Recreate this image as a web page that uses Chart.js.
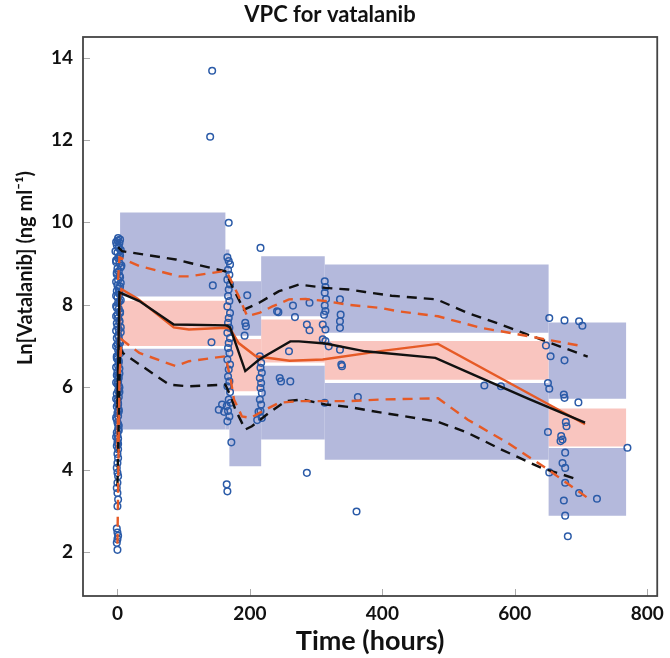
<!DOCTYPE html>
<html>
<head>
<meta charset="utf-8">
<title>VPC for vatalanib</title>
<script src="https://cdn.jsdelivr.net/npm/chart.js@4.4.1/dist/chart.umd.min.js"></script>
<style>
  html, body { margin: 0; padding: 0; background: #fff; }
  #wrap { width: 670px; height: 658px; }
</style>
</head>
<body>
<div id="wrap"><canvas id="vpc" width="670" height="658"></canvas></div>
<script>
// axis ticks
const xTicks = [0, 200, 400, 600, 800];
const yTicks = [2, 4, 6, 8, 10, 12, 14];

// time bins and the prediction-interval boxes (ln ng/ml)
const binStart  = [4,     163,  169,  217,  313,  651];
const binEnd    = [163,   169,  217,  313,  651,  768];
const hiTop     = [10.24, 9.34, 8.57, 9.18, 8.98, 7.57];
const hiBottom  = [8.20,  8.20, 7.25, 7.72, 7.32, 5.72];
const medTop    = [8.10,  8.10, 7.17, 7.64, 7.12, 5.48];
const medBottom = [7.00,  7.00, 5.90, 6.60, 6.18, 4.56];
const loTop     = [6.93,  6.93, 5.80, 6.52, 6.10, 4.52];
const loBottom  = [4.97,  4.97, 4.08, 4.73, 4.24, 2.88];

// observed percentiles (black)
const obsMedT = [0, 3, 33, 85, 165, 170, 193, 214, 261, 274, 314, 374, 480, 545, 620, 706];
const obsMedY = [5.5, 8.30, 8.09, 7.52, 7.50, 7.45, 6.39, 6.67, 7.11, 7.11, 7.06, 6.87, 6.71, 6.25, 5.72, 5.14];
const obs95T  = [1, 7, 88, 108, 163, 173, 191, 214, 244, 274, 314, 349, 374, 414, 482, 529, 579, 639, 710];
const obs95Y  = [9.40, 9.30, 9.10, 9.02, 8.81, 8.45, 7.88, 8.05, 8.33, 8.49, 8.41, 8.37, 8.31, 8.22, 8.13, 7.80, 7.52, 7.16, 6.74];
const obs05T  = [0, 4, 8, 78, 108, 163, 171, 178, 193, 203, 229, 254, 279, 314, 349, 384, 419, 484, 529, 579, 640, 695];
const obs05Y  = [3.6, 6.95, 6.83, 6.06, 6.02, 6.06, 5.78, 5.46, 4.97, 5.05, 5.38, 5.66, 5.70, 5.58, 5.52, 5.42, 5.33, 5.16, 4.89, 4.49, 4.04, 3.76];

// simulated percentiles (orange)
const predMedT = [0, 3, 6, 30, 85, 108, 163, 170, 183, 209, 260, 310, 400, 484, 706];
const predMedY = [4.5, 8.10, 8.38, 8.15, 7.45, 7.40, 7.44, 7.42, 7.07, 6.75, 6.64, 6.67, 6.88, 7.05, 5.10];
const pred95T  = [1, 3, 33, 93, 108, 158, 166, 183, 196, 214, 234, 259, 284, 314, 349, 399, 424, 484, 549, 620, 700];
const pred95Y  = [8.6, 9.15, 8.94, 8.69, 8.69, 8.81, 8.77, 8.21, 7.72, 7.80, 7.96, 8.13, 8.14, 8.09, 8.00, 7.92, 7.84, 7.72, 7.44, 7.24, 7.00];
const pred05T  = [0, 3, 6, 33, 88, 108, 163, 171, 176, 188, 201, 224, 244, 274, 319, 349, 399, 484, 529, 589, 650, 710];
const pred05Y  = [2.2, 6.2, 7.16, 6.83, 6.51, 6.63, 6.75, 6.18, 5.70, 5.29, 5.25, 5.46, 5.62, 5.66, 5.66, 5.66, 5.70, 5.73, 5.21, 4.65, 4.00, 3.31];

// observed concentrations
const obsTime = [
  1, 0, 3, -1, 2, 5, 0, 4, 1, -2, 3, 6, 0, 2, -1, 4, 1, 5, 0, 2, -1, 3, 0, 5, 1, -2, 2, 4, 0, 1,
  3, -1, 0, 2, 5, 1, -1, 3, 0, 2, 1, 4, -1, 0, 2, 1, 3, 0, -1, 2, 1, 0, 3, 1, -1, 2, 0, 1, -1, 2,
  0, 1, -1, 0, 2, 1, -1, 0, 1, 0, -1, 1, 0, 1, 0, -1, 0, 1, 0, -1, 0, 1, 0, -1, 0, 1, 0, -1, 0,
  4, -2, 2, -3, 3, -2, 5, -1, 3, -2, 4, 2, -2, 3, -1, 4, -2, 3, 5, -2,
  2, 4, -2, 3, -1, 2, -2, 3, 1, -2, 2, 3, -2, 1, 2, -2, 1, 2, -2, 1,
  166, 168, 170, 167, 169, 166, 170, 168, 167, 169, 166, 170, 168, 167, 169, 166, 170, 168, 167, 169,
  166, 170, 168, 167, 169, 166, 170, 168, 165, 171, 167, 169, 166, 172, 153, 158, 161, 165, 166,
  143, 140, 168, 216, 144, 142, 196, 193, 194, 192,
  215, 217, 216, 218, 215, 217, 216, 218, 215, 217, 216, 218, 213, 211,
  241, 243, 265, 268, 245, 247, 261, 259, 286, 290, 286,
  313, 314, 313, 315, 313, 314, 312, 313, 290, 310, 314, 310, 314, 319,
  336, 337, 336, 336, 336, 338, 339, 363, 361, 554, 579,
  652, 675, 697, 702, 647, 654, 675, 650, 652, 674, 675, 696, 677, 678, 650, 670, 672, 669,
  770, 676, 672, 676, 652, 676, 697, 724, 674, 676, 680
];
const obsConc = [
  9.62, 9.56, 9.50, 9.45, 9.38, 9.33, 9.27, 9.20, 9.13, 9.08, 9.01, 8.95, 8.88, 8.81, 8.74, 8.67, 8.60, 8.53, 8.47, 8.40, 8.33, 8.26, 8.18, 8.11, 8.05, 7.97, 7.90, 7.83, 7.76, 7.68,
  7.61, 7.55, 7.47, 7.40, 7.33, 7.26, 7.19, 7.12, 7.04, 6.97, 6.90, 6.82, 6.75, 6.68, 6.60, 6.52, 6.45, 6.37, 6.29, 6.22, 6.14, 6.07, 5.99, 5.91, 5.84, 5.76, 5.68, 5.61, 5.53, 5.45,
  5.37, 5.30, 5.22, 5.14, 5.06, 4.98, 4.90, 4.83, 4.75, 4.66, 4.57, 4.49, 4.38, 4.28, 4.16, 4.04, 3.92, 3.84, 3.68, 3.55, 3.43, 3.27, 3.11, 2.57, 2.47, 2.39, 2.31, 2.22, 2.05,
  9.58, 9.52, 9.41, 9.30, 9.16, 9.04, 8.91, 8.78, 8.70, 8.56, 8.44, 8.30, 8.22, 8.08, 7.93, 7.80, 7.72, 7.58, 7.45, 7.37,
  7.22, 7.08, 6.99, 6.86, 6.71, 6.64, 6.48, 6.33, 6.26, 6.11, 6.03, 5.88, 5.72, 5.57, 5.41, 5.26, 5.10, 4.95, 4.79, 4.62,
  9.15, 9.06, 8.98, 8.85, 8.73, 8.61, 8.49, 8.37, 8.21, 8.09, 7.96, 7.80, 7.68, 7.56, 7.44, 7.32, 7.19, 7.07, 6.95, 6.83,
  6.67, 6.55, 6.43, 6.26, 6.14, 6.02, 5.88, 5.70, 5.54, 5.62, 5.42, 5.29, 5.17, 4.66, 5.45, 5.58, 5.40, 3.64, 3.47,
  13.68, 12.08, 9.99, 9.38, 8.47, 7.09, 8.23, 7.56, 7.48, 7.25,
  6.75, 6.59, 6.47, 6.35, 6.22, 6.10, 5.98, 5.86, 5.70, 5.58, 5.42, 5.25, 5.40, 5.20,
  7.84, 7.82, 7.98, 7.70, 6.22, 6.14, 6.14, 6.87, 7.52, 7.38, 3.92,
  8.57, 8.43, 8.29, 8.14, 7.98, 7.85, 7.76, 5.62, 8.05, 7.52, 7.40, 7.16, 7.12, 6.99,
  8.13, 7.76, 7.60, 7.44, 6.91, 6.55, 6.51, 5.76, 2.98, 6.04, 6.02,
  7.68, 7.62, 7.60, 7.49, 7.01, 6.75, 6.65, 6.10, 5.96, 5.82, 5.74, 5.63, 5.15, 5.05, 4.91, 4.81, 4.73, 4.69,
  4.53, 4.41, 4.16, 4.04, 3.93, 3.68, 3.43, 3.29, 3.25, 2.88, 2.38
];

const BLUE_BAND = '#b4b9dc';
const PINK_BAND = '#f9c5bf';
const ORANGE = '#e65a26';
const DOT = '#2b5ba8';
const FONT = 'Lato, "Open Sans", sans-serif';
const Y_TITLE = 'Ln[Vatalanib] (ng ml\u207B\u00B9)';

function xy(ts, ys) {
  return ts.map((t, i) => ({ x: t, y: ys[i] }));
}

function box(x0, x1, lo, hi, color) {
  return {
    type: 'line',
    data: [{ x: x0, y: lo }, { x: x0, y: hi }, { x: x1, y: hi }, { x: x1, y: lo }, { x: x0, y: lo }],
    fill: 'shape',
    backgroundColor: color,
    borderColor: 'rgba(0,0,0,0)',
    borderWidth: 0,
    pointRadius: 0,
    tension: 0,
    order: 5
  };
}

function curve(ts, ys, color, dashed) {
  return {
    type: 'line',
    data: xy(ts, ys),
    borderColor: color,
    borderWidth: 2.4,
    borderDash: dashed ? [10, 7] : [],
    pointRadius: 0,
    fill: false,
    tension: 0,
    order: 1
  };
}

const datasets = [];
binStart.forEach((b, i) => {
  datasets.push(box(b, binEnd[i], hiBottom[i], hiTop[i], BLUE_BAND));
  datasets.push(box(b, binEnd[i], loBottom[i], loTop[i], BLUE_BAND));
  datasets.push(box(b, binEnd[i], medBottom[i], medTop[i], PINK_BAND));
});
datasets.push({
  type: 'scatter',
  data: xy(obsTime, obsConc),
  pointStyle: 'circle',
  pointRadius: 3.3,
  pointBorderWidth: 1.5,
  borderColor: DOT,
  backgroundColor: 'rgba(0,0,0,0)',
  order: 2
});
datasets.push(curve(pred95T, pred95Y, ORANGE, true));
datasets.push(curve(pred05T, pred05Y, ORANGE, true));
datasets.push(curve(obs95T, obs95Y, '#111', true));
datasets.push(curve(obs05T, obs05Y, '#111', true));
datasets.push(curve(obsMedT, obsMedY, '#111', false));
datasets.push(curve(predMedT, predMedY, ORANGE, false));

// box round the plot, short inward ticks and the y title (sits above centre in the original)
const frame = {
  id: 'frame',
  afterDatasetsDraw(chart) {
    const { ctx, chartArea: a, scales: { x, y } } = chart;
    ctx.save();
    ctx.strokeStyle = '#aaa';
    ctx.lineWidth = 1;
    ctx.beginPath();
    xTicks.forEach(v => {
      const px = Math.round(x.getPixelForValue(v)) + 0.5;
      ctx.moveTo(px, a.bottom);
      ctx.lineTo(px, a.bottom - 7);
    });
    yTicks.forEach(v => {
      const py = Math.round(y.getPixelForValue(v)) + 0.5;
      ctx.moveTo(a.left, py);
      ctx.lineTo(a.left + 7, py);
    });
    ctx.stroke();
    ctx.strokeStyle = '#444';
    ctx.lineWidth = 1.8;
    ctx.strokeRect(a.left, a.top, a.right - a.left, a.bottom - a.top);

    ctx.translate(26, 268);
    ctx.rotate(-Math.PI / 2);
    ctx.fillStyle = '#111';
    ctx.font = 'bold 20px ' + FONT;
    ctx.textAlign = 'center';
    ctx.textBaseline = 'middle';
    ctx.fillText(Y_TITLE, 0, 0);
    ctx.restore();
  }
};

new Chart(document.getElementById('vpc'), {
  type: 'scatter',
  data: { datasets },
  options: {
    responsive: false,
    animation: false,
    devicePixelRatio: 1,
    layout: { padding: { left: 0, right: 10, top: 0, bottom: 0 } },
    plugins: {
      legend: { display: false },
      tooltip: { enabled: false },
      title: {
        display: true,
        text: 'VPC for vatalanib',
        color: '#111',
        font: { family: FONT, size: 22, weight: 'bold' },
        padding: { top: 2, bottom: 8.6 }
      }
    },
    scales: {
      x: {
        type: 'linear',
        min: -52,
        max: 815,
        grid: { display: false, drawTicks: false },
        border: { display: false },
        afterBuildTicks: s => { s.ticks = xTicks.map(v => ({ value: v })); },
        afterFit: s => { s.height = 62; },
        ticks: { color: '#111', padding: 6, maxRotation: 0, font: { family: FONT, size: 19, weight: 'bold' }, callback: v => String(v) },
        title: { display: true, text: 'Time (hours)', color: '#111', font: { family: FONT, size: 27, weight: 'bold' }, padding: { top: 0, bottom: 1 } }
      },
      y: {
        type: 'linear',
        min: 0.93,
        max: 14.5,
        grid: { display: false, drawTicks: false },
        border: { display: false },
        afterBuildTicks: s => { s.ticks = yTicks.map(v => ({ value: v })); },
        afterFit: s => { s.width = 83; },
        ticks: { color: '#111', padding: 10, font: { family: FONT, size: 19, weight: 'bold' }, callback: v => String(v) },
        title: { display: false }
      }
    }
  },
  plugins: [frame]
});
</script>
</body>
</html>
